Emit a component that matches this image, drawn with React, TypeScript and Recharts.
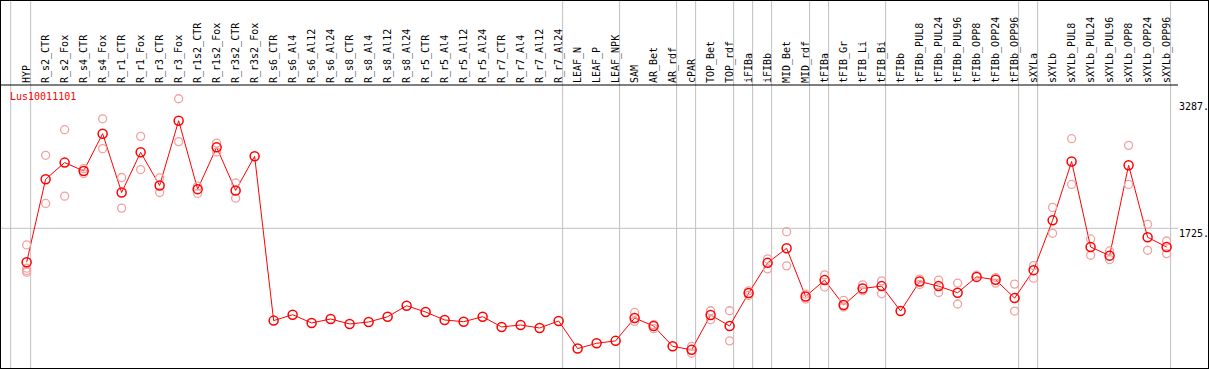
import { ComposedChart, Line, Scatter, XAxis, YAxis, ReferenceLine } from "recharts"

const TITLE = "Lus10011101"

const CATEGORIES = [
  "HYP",
  "R_s2_CTR", "R_s2_Fox", "R_s4_CTR", "R_s4_Fox", "R_r1_CTR", "R_r1_Fox",
  "R_r3_CTR", "R_r3_Fox", "R_r1s2_CTR", "R_r1s2_Fox", "R_r3s2_CTR", "R_r3s2_Fox",
  "R_s6_CTR", "R_s6_Al4", "R_s6_Al12", "R_s6_Al24", "R_s8_CTR", "R_s8_Al4",
  "R_s8_Al12", "R_s8_Al24", "R_r5_CTR", "R_r5_Al4", "R_r5_Al12", "R_r5_Al24",
  "R_r7_CTR", "R_r7_Al4", "R_r7_Al12", "R_r7_Al24",
  "LEAF_N", "LEAF_P", "LEAF_NPK",
  "SAM", "AR_Bet", "AR_rdf", "cPAR", "TOP_Bet", "TOP_rdf", "iFIBa", "iFIBb",
  "MID_Bet", "MID_rdf", "tFIBa", "tFIB_Gr", "tFIB_Li", "tFIB_Bi",
  "tFIBb", "tFIBb_PUL8", "tFIBb_PUL24", "tFIBb_PUL96", "tFIBb_OPP8", "tFIBb_OPP24", "tFIBb_OPP96",
  "sXYLa", "sXYLb", "sXYLb_PUL8", "sXYLb_PUL24", "sXYLb_PUL96", "sXYLb_OPP8", "sXYLb_OPP24", "sXYLb_OPP96",
]

// mean expression per sample
const MEANS = [
  1306,
  2331, 2536, 2433, 2893, 2167, 2663, 2253, 3053, 2208, 2724, 2192, 2614,
  585, 658, 556, 605, 544, 568, 633, 769, 691, 593, 572, 633, 507, 531, 494, 581,
  240, 305, 335,
  617, 519, 268, 224, 654, 519, 925, 1298, 1478, 883, 1085, 777, 982, 1011,
  703, 1068, 1011, 929, 1125, 1089, 863,
  1208, 1823, 2549, 1494, 1387, 2503, 1614, 1494,
]

// individual replicates (pink circles)
const REPLICATES: number[][] = [
  [1519, 1232, 1203, 1183],
  [2626, 2032], [2942, 2122], [2462, 2401], [3077, 2708], [2352, 1974], [2860, 2450],
  [2347, 2167], [3324, 2795], [2245, 2155], [2777, 2667], [2285, 2097], [],
  [], [], [], [], [], [], [], [], [], [], [], [], [], [], [], [],
  [], [], [],
  [686, 576], [486, 535], [], [268, 182], [707, 597], [707, 335], [896, 953], [1347, 1224],
  [1683, 1261], [851, 913], [1150, 999], [834, 753], [1027, 953], [1076, 916],
  [], [1097, 1031], [1085, 932], [1048, 790], [1146], [1117, 1048], [1036, 703],
  [1264, 1109], [1983, 1663], [2831, 2266], [1593, 1392], [1445, 1338], [2749, 2266], [1774, 1454], [1568, 1412],
]

const Y_TICKS = [0, 1725, 3287]
// last sample index of each group, a separator is drawn after it
const GROUP_ENDS = [0, 28, 31, 34, 35, 37, 38, 39, 41, 42, 45, 52, 53, 60]

const FONT = "'DejaVu Sans Mono', monospace"
const RED = "#ff0000"
const PINK = "#f2a0a0"
const GRID = "#c0c0c0"

const data = CATEGORIES.map((name, idx) => ({ idx, name, mean: MEANS[idx] }))
const repPoints = REPLICATES.flatMap((reps, idx) => reps.map((v) => ({ idx, v })))
const separators = [-0.84, ...GROUP_ENDS.map((i) => i + 0.21)]

function CategoryTick({ x, payload }: any) {
  return (
    <text
      transform={`translate(${x + 3},82) rotate(-90)`}
      fontFamily={FONT}
      fontSize={10}
      fill="#000"
    >
      {CATEGORIES[payload.value]}
    </text>
  )
}

function ValueTick({ x, y, payload }: any) {
  const v = payload.value
  return (
    <text x={x} y={y + (v === 0 ? -3 : 8.5)} fontFamily={FONT} fontSize={10} fill="#000" textAnchor="start">
      {v === 0 ? "0" : `${v}.`}
    </text>
  )
}

function MeanDot({ cx, cy }: any) {
  if (cx == null || cy == null) return <g />
  return <circle cx={cx} cy={cy} r={4.5} fill="none" stroke={RED} strokeWidth={1.5} />
}

function RepDot({ cx, cy }: any) {
  return <circle cx={cx} cy={cy} r={4} fill="none" stroke={PINK} strokeWidth={1.3} />
}

export default function App() {
  return (
    <div
      style={{
        position: "absolute",
        left: 0,
        top: 0,
        width: 1207,
        height: 367,
        border: "1px solid #000",
        background: "#fff",
      }}
    >
      <ComposedChart width={1207} height={367} data={data} margin={{ top: 0, right: 0, bottom: 0, left: 0 }}>
        <XAxis
          dataKey="idx"
          type="number"
          orientation="top"
          domain={[-1.35, 60.6]}
          ticks={CATEGORIES.map((_, i) => i)}
          interval={0}
          allowDataOverflow
          height={84}
          tickSize={0}
          tick={<CategoryTick />}
          axisLine={{ stroke: "#000", strokeWidth: 1 }}
          tickLine={false}
        />
        <YAxis
          type="number"
          orientation="right"
          domain={[0, 3494]}
          ticks={Y_TICKS}
          allowDataOverflow
          width={30}
          tickSize={0}
          tickMargin={1}
          tick={<ValueTick />}
          axisLine={false}
          tickLine={false}
        />
        {separators.map((s) => (
          <ReferenceLine
            key={s}
            segment={[{ x: s, y: 0 }, { x: s, y: 4530 }]}
            ifOverflow="visible"
            stroke={GRID}
            strokeWidth={1}
          />
        ))}
        <ReferenceLine y={1725} stroke={GRID} strokeWidth={1} />
        <Scatter data={repPoints} dataKey="v" shape={<RepDot />} isAnimationActive={false} />
        <Line
          type="linear"
          dataKey="mean"
          stroke={RED}
          strokeWidth={1}
          dot={<MeanDot />}
          activeDot={false}
          isAnimationActive={false}
        />
      </ComposedChart>
      <span
        style={{
          position: "absolute",
          left: 9,
          top: 90,
          fontFamily: FONT,
          fontSize: 10,
          lineHeight: "12px",
          color: RED,
        }}
      >
        {TITLE}
      </span>
    </div>
  )
}
